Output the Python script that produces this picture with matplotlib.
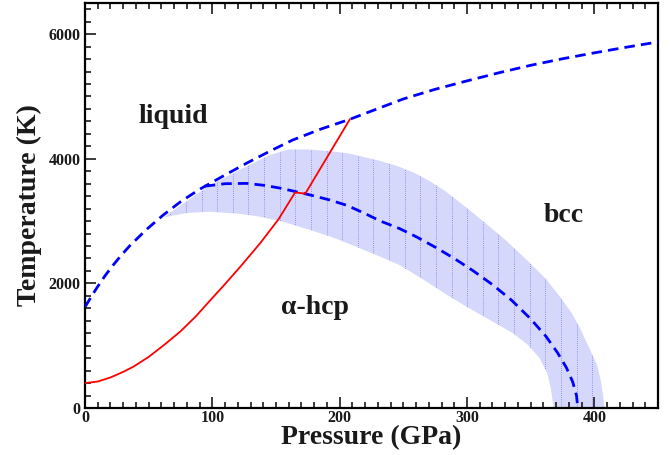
import matplotlib
matplotlib.use('Agg')
import matplotlib.pyplot as plt
import numpy as np
from matplotlib.ticker import MultipleLocator

plt.rcParams['font.family'] = ['Liberation Serif', 'DejaVu Serif']
plt.rcParams['font.weight'] = 'bold'

# melting curve (liquid / solid), blue dashed
melt_p = [0, 5, 10, 16, 22, 28, 35, 48, 61.5, 75, 90, 110, 127, 145, 163,
          185, 208, 230, 250, 275, 300, 325, 350, 375, 400, 425, 450]
melt_t = [1620, 1790, 1950, 2130, 2290, 2440, 2600, 2860, 3098, 3310, 3510,
          3740, 3930, 4120, 4300, 4475, 4634, 4805, 4960, 5115, 5250, 5380,
          5500, 5605, 5700, 5790, 5875]

# hcp / bcc boundary, blue dashed
bnd_p = [94, 110, 127, 140, 153, 165, 177, 192, 206, 220, 232, 247, 260, 276,
         290, 305, 320, 335, 350, 362, 371, 378, 383, 386, 387]
bnd_t = [3560, 3600, 3605, 3575, 3530, 3475, 3418, 3340, 3250, 3120, 3000,
         2880, 2750, 2570, 2400, 2200, 1980, 1730, 1430, 1150, 890, 650, 420,
         200, 0]

# hcp melting, red
red_p = [0, 10, 20, 30, 38, 50, 62, 75, 87, 98, 110, 122, 137.5, 152, 165,
         173, 208]
red_t = [400, 425, 490, 580, 663, 820, 1010, 1230, 1470, 1720, 1990, 2268,
         2643, 3030, 3460, 3440, 4634]

# uncertainty band of the hcp/bcc boundary
up_p = [62, 70, 80, 94, 110, 127, 145, 160, 175, 190, 206, 230, 245, 258,
        270, 283, 295, 312, 330, 347, 362, 373, 382, 389, 396, 402, 405, 407,
        408]
up_t = [3060, 3180, 3320, 3520, 3700, 3880, 4060, 4150, 4150, 4125, 4090,
        3975, 3885, 3780, 3650, 3480, 3290, 3010, 2700, 2375, 2070, 1786,
        1530, 1270, 960, 700, 450, 180, 0]
lo_p = [62, 80, 98, 120, 137.5, 157, 177, 197, 216, 232, 247, 265, 284, 300,
        320, 336, 348, 357, 363, 366, 368]
lo_t = [3060, 3130, 3150, 3120, 3070, 2980, 2857, 2720, 2563, 2428, 2295,
        2070, 1820, 1620, 1390, 1200, 1010, 800, 560, 300, 0]

phase_names = ['liquid', 'bcc', '\u03b1-hcp']
phase_p = [69.7, 376.3, 180.7]
phase_t = [4570, 2990, 1504]

fig = plt.figure(figsize=(6.71, 4.55), dpi=100)
ax = fig.add_axes([85 / 671, 1 - 408 / 455, 573 / 671, 405 / 455])

band = ax.fill(up_p + lo_p[::-1], up_t + lo_t[::-1], color='#d5d8fb',
               lw=0, zorder=1)[0]
lc = ax.vlines(np.arange(67, 410, 12.27), 0, 6500, colors='#7b7bf2',
               linestyles=(0, (1, 1.5)), linewidth=0.6, zorder=1.5)
lc.set_clip_path(band)

dash = (0, (3.8, 2.2))
ax.plot(melt_p, melt_t, color='#0000ff', lw=2.0, linestyle=dash, zorder=3)
ax.plot(bnd_p, bnd_t, color='#0000ff', lw=2.0, linestyle=dash, zorder=3)
ax.plot(red_p, red_t, color='#ff0000', lw=1.3, zorder=4)

for name, p, t in zip(phase_names, phase_p, phase_t):
    ax.text(p, t, name, fontsize=20, fontweight='bold', ha='center',
            va='baseline', color='#1a1a1a')

ax.set_xlim(0, 450)
ax.set_ylim(0, 6500)
ax.xaxis.set_major_locator(MultipleLocator(100))
ax.xaxis.set_minor_locator(MultipleLocator(10))
ax.yaxis.set_major_locator(MultipleLocator(2000))
ax.yaxis.set_minor_locator(MultipleLocator(200))
ax.tick_params(which='both', direction='in', top=True, right=False,
               width=1.2, labelsize=11.5, colors='#1a1a1a')
ax.tick_params(which='major', length=8)
ax.tick_params(which='minor', length=4)
ax.tick_params(axis='x', pad=1.5)
ax.tick_params(axis='y', pad=3)
for s in ax.spines.values():
    s.set_linewidth(1.6)

ax.set_xlabel('Pressure (GPa)', fontsize=20, fontweight='bold', color='#1a1a1a')
ax.set_ylabel('Temperature (K)', fontsize=20, fontweight='bold', color='#1a1a1a')
ax.xaxis.set_label_coords(0.5, -0.042)
ax.yaxis.set_label_coords(-0.075, 0.5)

fig.savefig('out.png', dpi=100)
